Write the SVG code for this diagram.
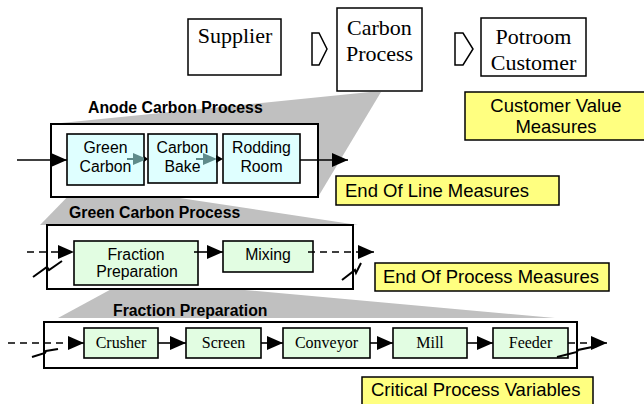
<svg xmlns="http://www.w3.org/2000/svg" width="644" height="404" viewBox="0 0 644 404">
<defs>
<style>
.top{fill:#fff;stroke:#000;stroke-width:1.5}
.tt{font-family:"Liberation Serif","Times New Roman",serif;font-size:22px;fill:#000;text-anchor:middle}
.outer{fill:#fff;stroke:#000;stroke-width:2}
.title{font-family:"Liberation Sans",Arial,sans-serif;font-size:15.8px;font-weight:bold;fill:#000}
.cy{fill:#DFFFFF;stroke:#000;stroke-width:1.6}
.gr{fill:#E2FDE2;stroke:#000;stroke-width:1.6}
.sans{font-family:"Liberation Sans",Arial,sans-serif;font-size:15.8px;fill:#000;text-anchor:middle}
.serif{font-family:"Liberation Serif","Times New Roman",serif;font-size:16px;fill:#000;text-anchor:middle}
.yel{fill:#FFFF80;stroke:#000;stroke-width:1.5}
.yt{font-family:"Liberation Sans",Arial,sans-serif;font-size:18.5px;fill:#000}
.wedge{fill:#C0C0C0}
.ln{fill:none;stroke:#000;stroke-width:1.6}
.dash{fill:none;stroke:#000;stroke-width:1.6;stroke-dasharray:7 5}
.zz{fill:none;stroke:#000;stroke-width:2}
</style>
<marker id="ah" viewBox="0 0 16 14" refX="16" refY="7" markerWidth="16" markerHeight="14" markerUnits="userSpaceOnUse" orient="auto">
<path d="M0,0 L16,7 L0,14 z" fill="#000"/>
</marker>
</defs>

<!-- zoom wedges -->
<polygon class="wedge" points="370,92 381,92 318,197 51,124"/>
<polygon class="wedge" points="78,186 100,186 358,225 40,225"/>
<polygon class="wedge" points="117,286 200,286 555,318 58,318"/>

<!-- top value chain -->
<g id="supplier">
<rect class="top" x="188" y="19" width="93" height="56"/>
<text class="tt" x="235" y="43">Supplier</text>
</g>
<g id="chev1"><polygon class="top" points="312,33 319,33 327,49 319,65 312,65"/></g>
<g id="carbon-process">
<rect class="top" x="337" y="8" width="85" height="83"/>
<text class="tt" x="379.5" y="35">Carbon</text>
<text class="tt" x="379.5" y="61">Process</text>
</g>
<g id="chev2"><polygon class="top" points="455,33 463,33 473,49 463,65 455,65"/></g>
<g id="potroom">
<rect class="top" x="481" y="18" width="105" height="58"/>
<text class="tt" x="533.5" y="44">Potroom</text>
<text class="tt" x="533.5" y="70">Customer</text>
</g>

<!-- yellow labels -->
<g id="cvm">
<rect class="yel" x="465" y="92" width="182" height="48"/>
<text class="yt" x="556" y="112" text-anchor="middle">Customer Value</text>
<text class="yt" x="556" y="133" text-anchor="middle">Measures</text>
</g>
<g id="eolm">
<rect class="yel" x="336" y="176" width="223" height="29"/>
<text class="yt" x="345" y="197">End Of Line Measures</text>
</g>
<g id="eopm">
<rect class="yel" x="375" y="263" width="234" height="28"/>
<text class="yt" x="383" y="283">End Of Process Measures</text>
</g>
<g id="cpv">
<rect class="yel" x="362" y="377" width="231" height="30"/>
<text class="yt" x="371" y="396">Critical Process Variables</text>
</g>

<!-- Anode Carbon Process -->
<g id="anode">
<rect class="outer" x="51" y="124" width="267" height="73"/>
<text class="title" x="88" y="113">Anode Carbon Process</text>
</g>
<g id="green-carbon">
<rect class="cy" x="67" y="134" width="77" height="51"/>
<text class="sans" x="105.5" y="153">Green</text>
<text class="sans" x="105.5" y="172">Carbon</text>
</g>
<g id="carbon-bake">
<rect class="cy" x="148" y="134" width="69" height="49"/>
<text class="sans" x="182.5" y="153">Carbon</text>
<text class="sans" x="182.5" y="172">Bake</text>
</g>
<g id="rodding-room">
<rect class="cy" x="223" y="134" width="77" height="49"/>
<text class="sans" x="261.5" y="153">Rodding</text>
<text class="sans" x="261.5" y="172">Room</text>
</g>

<!-- Green Carbon Process -->
<g id="gcp">
<rect class="outer" x="47" y="225" width="306" height="64"/>
<text class="title" x="69" y="218">Green Carbon Process</text>
</g>
<g id="fraction">
<rect class="gr" x="74" y="241" width="124" height="44"/>
<text class="sans" x="136" y="260">Fraction</text>
<text class="sans" x="137" y="277">Preparation</text>
</g>
<g id="mixing">
<rect class="gr" x="223" y="241" width="90" height="31"/>
<text class="sans" x="268" y="260">Mixing</text>
</g>

<!-- Fraction Preparation -->
<g id="fp">
<rect class="outer" x="44" y="322" width="533" height="46"/>
<text class="title" x="113" y="316">Fraction Preparation</text>
</g>
<g id="crusher"><rect class="gr" x="84" y="328" width="74" height="30"/><text class="serif" x="121" y="348">Crusher</text></g>
<g id="screen"><rect class="gr" x="186" y="328" width="75" height="30"/><text class="serif" x="223.5" y="348">Screen</text></g>
<g id="conveyor"><rect class="gr" x="283" y="328" width="87" height="30"/><text class="serif" x="326.5" y="348">Conveyor</text></g>
<g id="mill"><rect class="gr" x="393" y="328" width="74" height="30"/><text class="serif" x="430" y="348">Mill</text></g>
<g id="feeder"><rect class="gr" x="493" y="328" width="75" height="30"/><text class="serif" x="530.5" y="348">Feeder</text></g>

<!-- connectors -->
<g id="connectors">
<path class="ln" d="M17,160 H67" marker-end="url(#ah)"/>
<path class="ln" d="M300,160 H348" marker-end="url(#ah)"/>
<path d="M127,159 H134" stroke="#5F8B8B" stroke-width="2"/>
<polygon points="133,153 147,159 133,165" fill="#5F8B8B"/>
<polygon points="144,156 148,159 144,162" fill="#000"/>
<path d="M196,159 H204" stroke="#5F8B8B" stroke-width="2"/>
<polygon points="203,153 217,159 203,165" fill="#5F8B8B"/>
<polygon points="216,155 223,159 216,163" fill="#000"/>

<path class="dash" d="M27,252 H74" marker-end="url(#ah)"/>
<path class="ln" d="M194,252 H223" marker-end="url(#ah)"/>
<path class="dash" d="M308,252 H374" marker-end="url(#ah)"/>
<polyline class="zz" points="33,277 47,267 49,270 62,261"/>
<polyline class="zz" points="342,280 355,270 356,273 361,263"/>

<path class="dash" d="M8,343 H84" marker-end="url(#ah)"/>
<path class="ln" d="M158,343 H186" marker-end="url(#ah)"/>
<path class="ln" d="M261,343 H283" marker-end="url(#ah)"/>
<path class="ln" d="M370,343 H393" marker-end="url(#ah)"/>
<path class="ln" d="M467,343 H493" marker-end="url(#ah)"/>
<path class="dash" d="M568,343 H607" marker-end="url(#ah)"/>
<polyline class="zz" points="32,357 45,353 46,351 58,349"/>
<polyline class="zz" points="557,357 577,352 578,350 597,346"/>
</g>
</svg>
